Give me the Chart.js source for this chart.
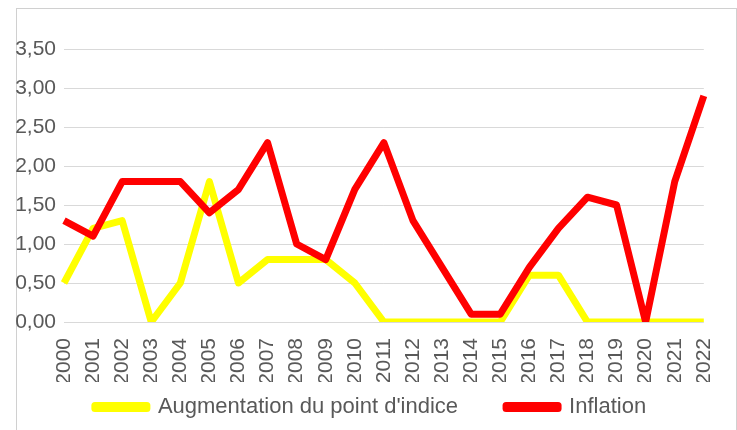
<!DOCTYPE html>
<html>
<head>
<meta charset="utf-8">
<script src="https://cdn.jsdelivr.net/npm/chart.js@4.4.0/dist/chart.umd.min.js"></script>
<style>
  html, body { margin: 0; padding: 0; background: #fff; }
  #cadre { position: absolute; left: 16px; top: 8px; width: 719px; height: 440px; border: 1px solid #d0d0d0; }
  #zone { position: absolute; left: 0; top: 0; width: 737px; height: 430px; }
</style>
</head>
<body>
<div id="cadre"></div>
<div id="zone"><canvas id="graphique"></canvas></div>
<script>
// Données
const annees = ['2000','2001','2002','2003','2004','2005','2006','2007','2008','2009','2010',
                '2011','2012','2013','2014','2015','2016','2017','2018','2019','2020','2021','2022'];
const pointIndice = [0.5, 1.2, 1.3, 0, 0.5, 1.8, 0.5, 0.8, 0.8, 0.8, 0.5,
                     0, 0, 0, 0, 0, 0.6, 0.6, 0, 0, 0, 0, 0];
const inflation = [1.3, 1.1, 1.8, 1.8, 1.8, 1.4, 1.7, 2.3, 1.0, 0.8, 1.7,
                   2.3, 1.3, 0.7, 0.1, 0.1, 0.7, 1.2, 1.6, 1.5, 0, 1.8, 2.9];
const yTicks = [0, 0.5, 1, 1.5, 2, 2.5, 3, 3.5];

const police = 'Liberation Sans, Arial, sans-serif';
const gris = '#595959';

// la légende garde un grand écart horizontal, on la remonte sous les années
const deplacerLegende = {
    id: 'deplacerLegende',
    afterLayout(chart) {
        const l = chart.legend;
        if (!l) return;
        l.top -= 34;
        l.left += 16; l.right += 16;
    }
};

let graphique = null;

function renderGraphique() {
    const canvas = document.getElementById('graphique');
    const ctx = canvas.getContext('2d');

    if (graphique) {
        graphique.destroy();
    }

    graphique = new Chart(ctx, {
        type: 'line',
        data: {
            labels: annees,
            datasets: [{
                label: "Augmentation du point d'indice",
                data: pointIndice,
                borderColor: '#FFFF00',
                backgroundColor: '#FFFF00',
                borderWidth: 7,
                borderJoinStyle: 'round',
                pointRadius: 0,
                tension: 0,
                order: 1
            }, {
                label: 'Inflation',
                data: inflation,
                borderColor: '#FF0000',
                backgroundColor: '#FF0000',
                borderWidth: 7,
                borderJoinStyle: 'round',
                pointRadius: 0,
                tension: 0,
                order: 0
            }]
        },
        options: {
            responsive: true,
            maintainAspectRatio: false,
            animation: false,
            layout: { padding: { top: 49, right: 28, left: 0, bottom: 0 } },
            scales: {
                x: {
                    afterFit: (scale) => { scale.height = 60; },
                    grid: { display: false },
                    border: { display: false },
                    ticks: {
                        color: gris,
                        font: { family: police, size: 21 },
                        minRotation: 90,
                        maxRotation: 90,
                        autoSkip: false,
                        padding: 8
                    }
                },
                y: {
                    min: 0,
                    max: 3.5,
                    afterFit: (scale) => { scale.width = 64; },
                    afterBuildTicks: (scale) => { scale.ticks = yTicks.map(v => ({ value: v })); },
                    grid: { color: '#d9d9d9', lineWidth: 1, drawTicks: false },
                    border: { display: false },
                    ticks: {
                        color: gris,
                        font: { family: police, size: 21 },
                        padding: 8,
                        callback: (v) => v.toFixed(2).replace('.', ',')
                    }
                }
            },
            plugins: {
                legend: {
                    position: 'bottom',
                    maxHeight: 48,
                    labels: {
                        color: gris,
                        font: { family: police, size: 22 },
                        boxWidth: 52,
                        boxHeight: 3,
                        padding: 48,
                        sort: (a, b) => a.datasetIndex - b.datasetIndex
                    }
                },
                tooltip: { enabled: false }
            }
        },
        plugins: [deplacerLegende]
    });
}

renderGraphique();
</script>
</body>
</html>
